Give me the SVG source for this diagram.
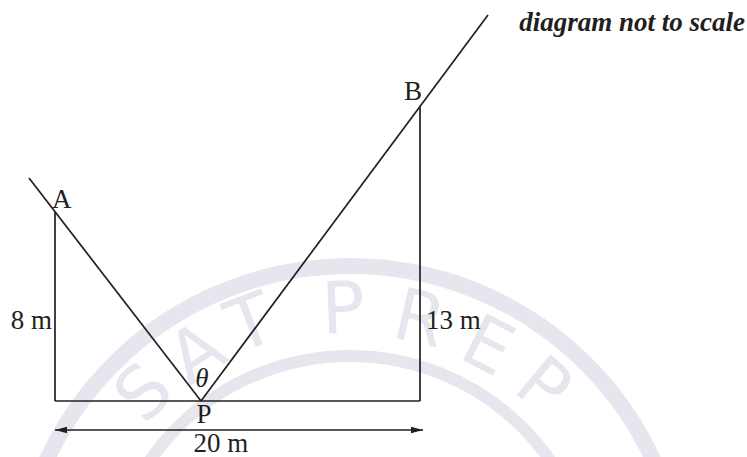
<svg xmlns="http://www.w3.org/2000/svg" width="747" height="457" viewBox="0 0 747 457">
  <style>
    .wm { fill: none; stroke: #e6e7ee; }
    .wmt { fill: #e6e7ee; font-family: "DejaVu Sans", "Liberation Sans", sans-serif; font-size: 72px; text-anchor: middle; dominant-baseline: central; }
    .ln { fill: none; stroke: #231f20; stroke-width: 1.7; stroke-linecap: butt; }
    .lbl { fill: #231f20; font-family: "Liberation Serif", "Times New Roman", serif; font-size: 27px; }
  </style>
  <defs>
    <marker id="ah" viewBox="0 0 12 8" refX="12" refY="4" markerWidth="12" markerHeight="8" markerUnits="userSpaceOnUse" orient="auto-start-reverse">
      <path d="M0,0.8 L12,4 L0,7.2 Z" fill="#231f20"/>
    </marker>
  </defs>
  <rect width="747" height="457" fill="#ffffff"/>

  <!-- watermark -->
  <g id="watermark">
    <circle class="wm" cx="350" cy="600" r="334" stroke-width="16"/>
    <circle class="wm" cx="350" cy="600" r="244" stroke-width="12"/>
    <text class="wmt" transform="translate(143,392) rotate(-45)">S</text>
    <text class="wmt" transform="translate(196,352) rotate(-33)">A</text>
    <text class="wmt" transform="translate(250,322) rotate(-21)">T</text>
    <text class="wmt" transform="translate(343,308) rotate(-2)">P</text>
    <text class="wmt" transform="translate(420,318) rotate(13)">R</text>
    <text class="wmt" transform="translate(488,345) rotate(27)">E</text>
    <text class="wmt" transform="translate(544,385) rotate(40)">P</text>
  </g>

  <g id="connectors">
    <line class="ln" x1="29" y1="178" x2="201" y2="401"/>
    <line class="ln" x1="201" y1="401" x2="488" y2="15"/>
    <line class="ln" x1="55" y1="212" x2="55" y2="401"/>
    <line class="ln" x1="420" y1="106" x2="420" y2="401"/>
    <line class="ln" x1="55" y1="401" x2="420" y2="401"/>
    <line class="ln" x1="55" y1="430" x2="423" y2="430" marker-start="url(#ah)" marker-end="url(#ah)"/>
  </g>

  <g id="node-A"><text class="lbl" x="52" y="208">A</text></g>
  <g id="node-B"><text class="lbl" x="404" y="100">B</text></g>
  <g id="node-P"><text class="lbl" x="204" y="423" text-anchor="middle">P</text></g>
  <g id="label-theta"><text class="lbl" x="202" y="387" text-anchor="middle" font-style="italic" font-size="25">θ</text></g>
  <g id="label-8m"><text class="lbl" x="52" y="329" text-anchor="end">8 m</text></g>
  <g id="label-13m"><text class="lbl" x="426" y="329">13 m</text></g>
  <g id="label-20m"><text class="lbl" x="221" y="452" text-anchor="middle">20 m</text></g>
  <g id="title"><text class="lbl" x="745" y="31" text-anchor="end" font-weight="bold" font-style="italic" font-size="28">diagram not to scale</text></g>
</svg>
